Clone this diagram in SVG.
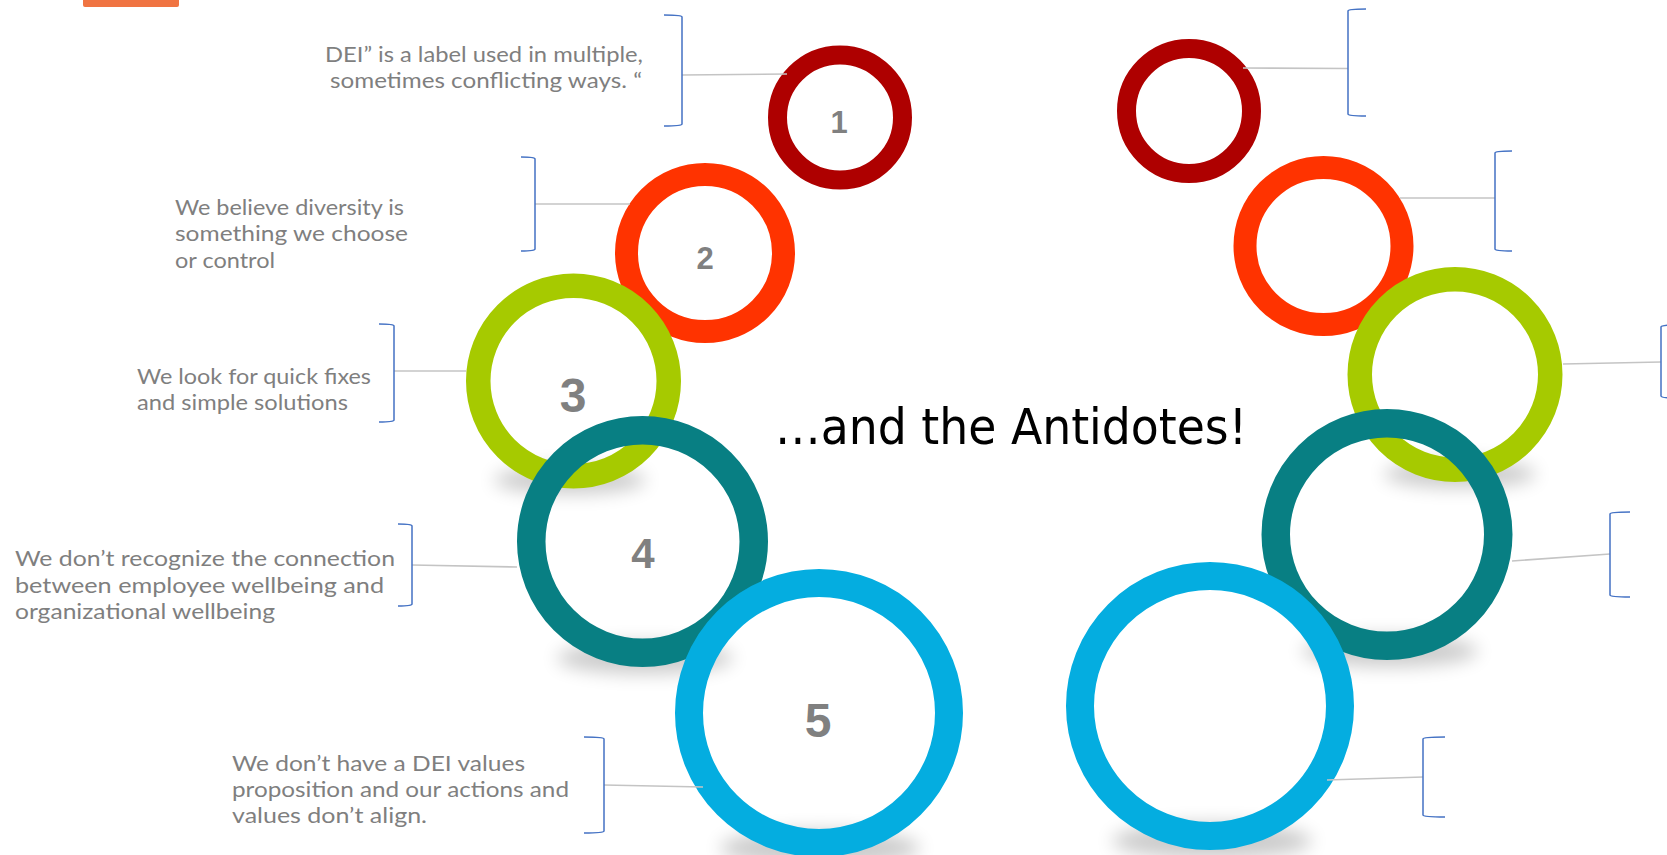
<svg xmlns="http://www.w3.org/2000/svg" width="1667" height="855" viewBox="0 0 1667 855">
<defs>
<style>
.lbl{font-family:Lato,"Liberation Sans",sans-serif;font-size:21.5px;fill:#7F7F7F}
.num{font-family:"Liberation Sans",Arial,sans-serif;font-weight:bold;fill:#808080;text-anchor:middle}
.ring{fill:none}
.c1{stroke:#AE0000}
.c2{stroke:#FF3300}
.c3{stroke:#A6CA00}
.c4{stroke:#087F83}
.c5{stroke:#04ADE0}
.conn{stroke:#C4C4C4;stroke-width:1.6;fill:none}
.brk{stroke:#4472C4;stroke-width:1.5;fill:none}
.shadow{fill:#000;opacity:0.2;filter:url(#blur)}
</style>
<filter id="blur" x="-50%" y="-100%" width="200%" height="300%"><feGaussianBlur stdDeviation="9"/></filter>
</defs>
<rect width="1667" height="855" fill="#FFFFFF"/>
<path d="M83,0 H179 V5 Q179,7 177,7 H85 Q83,7 83,5 Z" fill="#F07442"/>

<text x="775" y="444" font-family="'DejaVu Sans Condensed','DejaVu Sans',sans-serif" font-size="49" fill="#000" textLength="472" lengthAdjust="spacingAndGlyphs">…and the Antidotes!</text>

<g id="shadows">
<ellipse class="shadow" cx="570" cy="480" rx="76" ry="14"/>
<ellipse class="shadow" cx="645" cy="658" rx="88" ry="16"/>
<ellipse class="shadow" cx="820" cy="848" rx="100" ry="18"/>
<ellipse class="shadow" cx="1460" cy="474" rx="76" ry="14"/>
<ellipse class="shadow" cx="1390" cy="651" rx="88" ry="16"/>
<ellipse class="shadow" cx="1212" cy="841" rx="100" ry="18"/>
</g>

<g id="left-1"><circle class="ring c1" cx="840" cy="117.5" r="62.5" stroke-width="19"/><text class="num" x="839" y="133" font-size="31">1</text></g>
<g id="left-2"><circle class="ring c2" cx="705" cy="253" r="78.5" stroke-width="23"/><text class="num" x="705" y="269" font-size="31">2</text></g>
<g id="left-3"><circle class="ring c3" cx="573.5" cy="381" r="95.25" stroke-width="24.5"/><text class="num" x="573" y="412" font-size="48">3</text></g>
<g id="left-4"><circle class="ring c4" cx="642.5" cy="541.5" r="111.25" stroke-width="28.5"/><text class="num" x="643" y="568" font-size="42">4</text></g>
<g id="left-5"><circle class="ring c5" cx="819" cy="713" r="130" stroke-width="28"/><text class="num" x="818" y="737" font-size="48">5</text></g>

<g id="right-1"><circle class="ring c1" cx="1189" cy="111" r="62.5" stroke-width="19"/></g>
<g id="right-2"><circle class="ring c2" cx="1323.5" cy="246" r="78.5" stroke-width="23"/></g>
<g id="right-3"><circle class="ring c3" cx="1455" cy="374.5" r="95.25" stroke-width="24.5"/></g>
<g id="right-4"><circle class="ring c4" cx="1387" cy="534.5" r="111.25" stroke-width="28.5"/></g>
<g id="right-5"><circle class="ring c5" cx="1210" cy="706" r="130" stroke-width="28"/></g>

<g id="connectors">
<line class="conn" x1="682" y1="75" x2="787" y2="74"/>
<line class="conn" x1="535" y1="204" x2="630" y2="204"/>
<line class="conn" x1="394" y1="371" x2="466" y2="371"/>
<line class="conn" x1="412" y1="565" x2="517" y2="567"/>
<line class="conn" x1="604" y1="785" x2="703" y2="787"/>
<line class="conn" x1="1243" y1="68" x2="1348" y2="68.5"/>
<line class="conn" x1="1400" y1="198" x2="1495" y2="198"/>
<line class="conn" x1="1563" y1="364" x2="1661" y2="362"/>
<line class="conn" x1="1512" y1="561" x2="1610" y2="554"/>
<line class="conn" x1="1327" y1="780" x2="1423" y2="777"/>
</g>

<g id="brackets">
<path class="brk" d="M664,15 Q682,15 682,17 V124 Q682,126 664,126"/>
<path class="brk" d="M521,157 Q535,157 535,159 V249 Q535,251 521,251"/>
<path class="brk" d="M379,324 Q394,324 394,326 V420 Q394,422 379,422"/>
<path class="brk" d="M398,524 Q412,524 412,526 V604 Q412,606 398,606"/>
<path class="brk" d="M584,737 Q604,737 604,739 V831 Q604,833 584,833"/>
<path class="brk" d="M1366,9 Q1348,9 1348,11 V114 Q1348,116 1366,116"/>
<path class="brk" d="M1512,151 Q1495,151 1495,153 V249 Q1495,251 1512,251"/>
<path class="brk" d="M1675,325 Q1661,325 1661,327 V396 Q1661,398 1675,398"/>
<path class="brk" d="M1630,512 Q1610,512 1610,514 V595 Q1610,597 1630,597"/>
<path class="brk" d="M1445,737 Q1423,737 1423,739 V815 Q1423,817 1445,817"/>
</g>

<g id="text-1">
<text class="lbl" x="325" y="62" textLength="318" lengthAdjust="spacingAndGlyphs">DEI” is a label used in multiple,</text>
<text class="lbl" x="330" y="88" textLength="312" lengthAdjust="spacingAndGlyphs">sometimes conflicting ways. “</text>
</g>
<g id="text-2">
<text class="lbl" x="175" y="215" textLength="229" lengthAdjust="spacingAndGlyphs">We believe diversity is</text>
<text class="lbl" x="175" y="241" textLength="233" lengthAdjust="spacingAndGlyphs">something we choose</text>
<text class="lbl" x="175" y="268" textLength="100" lengthAdjust="spacingAndGlyphs">or control</text>
</g>
<g id="text-3">
<text class="lbl" x="137" y="384" textLength="234" lengthAdjust="spacingAndGlyphs">We look for quick fixes</text>
<text class="lbl" x="137" y="410" textLength="211" lengthAdjust="spacingAndGlyphs">and simple solutions</text>
</g>
<g id="text-4">
<text class="lbl" x="15" y="566" textLength="380" lengthAdjust="spacingAndGlyphs">We don’t recognize the connection</text>
<text class="lbl" x="15" y="593" textLength="369" lengthAdjust="spacingAndGlyphs">between employee wellbeing and</text>
<text class="lbl" x="15" y="619" textLength="260" lengthAdjust="spacingAndGlyphs">organizational wellbeing</text>
</g>
<g id="text-5">
<text class="lbl" x="232" y="771" textLength="293" lengthAdjust="spacingAndGlyphs">We don’t have a DEI values</text>
<text class="lbl" x="232" y="797" textLength="337" lengthAdjust="spacingAndGlyphs">proposition and our actions and</text>
<text class="lbl" x="232" y="823" textLength="195" lengthAdjust="spacingAndGlyphs">values don’t align.</text>
</g>
</svg>
